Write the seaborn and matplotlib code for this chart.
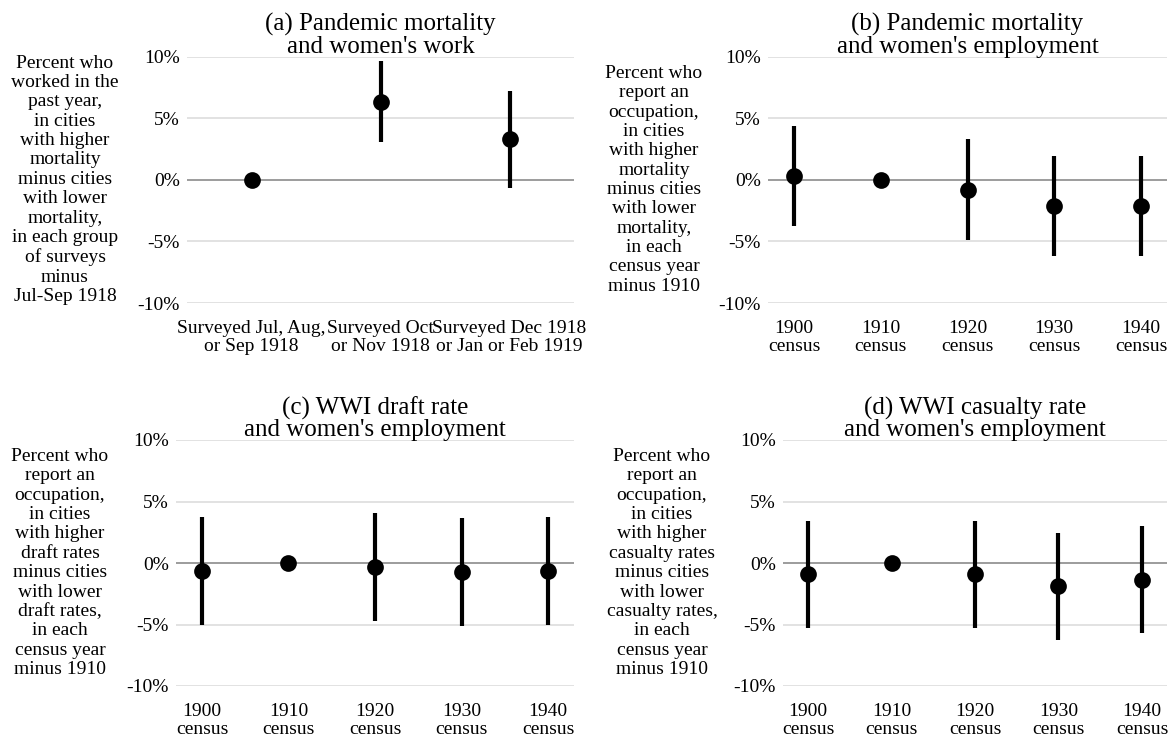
import numpy as np
import pandas as pd
import matplotlib
matplotlib.use("Agg")
import matplotlib.pyplot as plt
import seaborn as sns

# ---------------- data ----------------
a_labels = ["Surveyed Jul, Aug,\nor Sep 1918", "Surveyed Oct\nor Nov 1918",
            "Surveyed Dec 1918\nor Jan or Feb 1919"]
a_est = [0.0, 6.35, 3.30]
a_lo = [0.0, 3.10, -0.66]
a_hi = [0.0, 9.65, 7.22]

census_labels = ["1900\ncensus", "1910\ncensus", "1920\ncensus", "1930\ncensus", "1940\ncensus"]

b_est = [0.32, 0.0, -0.81, -2.11, -2.13]
b_lo = [-3.76, 0.0, -4.92, -6.17, -6.17]
b_hi = [4.38, 0.0, 3.30, 1.97, 1.95]

c_est = [-0.62, 0.0, -0.35, -0.76, -0.62]
c_lo = [-5.00, 0.0, -4.73, -5.16, -5.00]
c_hi = [3.76, 0.0, 4.03, 3.62, 3.76]

d_est = [-0.92, 0.0, -0.92, -1.89, -1.40]
d_lo = [-5.27, 0.0, -5.27, -6.27, -5.73]
d_hi = [3.43, 0.0, 3.43, 2.43, 2.97]

y_ticks = [-10, -5, 0, 5, 10]
y_ticklabels = ["-10%", "-5%", "0%", "5%", "10%"]

titles = ["(a) Pandemic mortality\nand women's work",
          "(b) Pandemic mortality\nand women's employment",
          "(c) WWI draft rate\nand women's employment",
          "(d) WWI casualty rate\nand women's employment"]

ylabels = [
    "Percent who\nworked in the\npast year,\nin cities\nwith higher\nmortality\nminus cities\nwith lower\nmortality,\nin each group\nof surveys\nminus\nJul-Sep 1918",
    "Percent who\nreport an\noccupation,\nin cities\nwith higher\nmortality\nminus cities\nwith lower\nmortality,\nin each\ncensus year\nminus 1910",
    "Percent who\nreport an\noccupation,\nin cities\nwith higher\ndraft rates\nminus cities\nwith lower\ndraft rates,\nin each\ncensus year\nminus 1910",
    "Percent who\nreport an\noccupation,\nin cities\nwith higher\ncasualty rates\nminus cities\nwith lower\ncasualty rates,\nin each\ncensus year\nminus 1910",
]

panels = [
    (a_labels, a_est, a_lo, a_hi),
    (census_labels, b_est, b_lo, b_hi),
    (census_labels, c_est, c_lo, c_hi),
    (census_labels, d_est, d_lo, d_hi),
]

# ---------------- style ----------------
sns.set_theme(style="white")
plt.rcParams["font.family"] = ["Liberation Serif", "DejaVu Serif"]
plt.rcParams["text.color"] = "black"
plt.rcParams["axes.labelcolor"] = "black"
plt.rcParams["xtick.color"] = "#cfcfcf"
plt.rcParams["xtick.labelcolor"] = "black"
plt.rcParams["ytick.labelcolor"] = "black"

W, H = 1174, 737
fig = plt.figure(figsize=(W / 100, H / 100), dpi=100)
fig.patch.set_facecolor("white")

# pixel boxes: left, right, top, bottom
boxes = [(187, 574, 56.7, 303), (768, 1167, 56.7, 303),
         (176, 574, 440, 686), (783, 1167, 440, 686)]
ylabel_x = [65, 654, 60, 662]
xpads = [(-0.5, 2.5), (-0.3, 4.3), (-0.3, 4.3), (-0.3, 4.3)]

for i, (labels, est, lo, hi) in enumerate(panels):
    l, r, t, b = boxes[i]
    ax = fig.add_axes([l / W, 1 - b / H, (r - l) / W, (b - t) / H])
    rows = []
    for lab, e, lw_, hw in zip(labels, est, lo, hi):
        for v in (lw_, e, hw):
            rows.append({"cat": lab, "val": v})
    df = pd.DataFrame(rows)
    ax.set_axisbelow(True)
    ax.axhline(0, color="#8a8a8a", lw=1.1, zorder=1.5)
    sns.pointplot(data=df, x="cat", y="val", order=labels, estimator="median",
                  errorbar=("pi", 100), color="black", linestyle="none",
                  markers="o", markersize=10,
                  err_kws={"linewidth": 3, "solid_capstyle": "butt"}, ax=ax)
    ax.set_xlim(*xpads[i])
    ax.set_ylim(-10, 10)
    ax.set_yticks(y_ticks)
    ax.set_yticklabels(y_ticklabels, fontsize=14)
    ax.set_xticks(range(len(labels)))
    ax.set_xticklabels(labels, fontsize=14)
    for tl in ax.get_xticklabels():
        tl.set_linespacing(1.1)
    ax.grid(axis="y", color="#dadada", lw=1.1)
    ax.grid(axis="x", visible=False)
    for s in ax.spines.values():
        s.set_visible(False)
    ax.tick_params(axis="x", length=4.5, width=0.8, pad=7.5, color="#cfcfcf")
    ax.tick_params(axis="y", length=0, pad=5)
    ax.set_xlabel("")
    ax.set_ylabel(ylabels[i], rotation=0, ha="center", va="center",
                  fontsize=14, linespacing=1.18, multialignment="center")
    ax.yaxis.set_label_coords((ylabel_x[i] - l) / (r - l), 0.5)
    ax.set_title(titles[i], fontsize=18, linespacing=0.95, pad=3)

fig.savefig("out.png", dpi=100, facecolor="white")
